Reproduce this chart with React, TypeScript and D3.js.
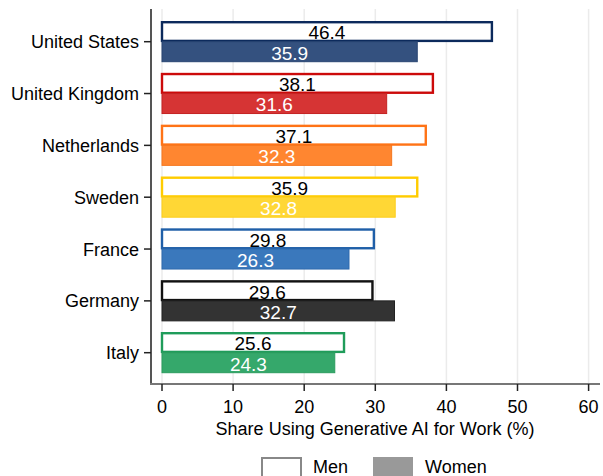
import React from "react";
import * as d3 from "d3";

const countries = ["United States", "United Kingdom", "Netherlands", "Sweden", "France", "Germany", "Italy"];
const menValues = [46.4, 38.1, 37.1, 35.9, 29.8, 29.6, 25.6];
const womenValues = [35.9, 31.6, 32.3, 32.8, 26.3, 32.7, 24.3];
const menStroke = ["#0c2a5c", "#cc0a0a", "#ff7316", "#ffcc00", "#1f5fa8", "#111111", "#1f9c5a"];
const womenFill = ["#34517f", "#d63434", "#ff8630", "#ffd735", "#3a78bc", "#333333", "#35a86b"];
const womenStroke = ["#294572", "#c42222", "#f5761e", "#fccd1c", "#2e6aae", "#222222", "#2b9c5e"];
const xTicks = [0, 10, 20, 30, 40, 50, 60];
const xTitle = "Share Using Generative AI for Work (%)";
const legendLabels = ["Men", "Women"];

const FONT = "'Liberation Sans', Arial, Helvetica, sans-serif";

export default function App() {
  const W = 603, H = 476;
  const x = d3.scaleLinear().domain([0, 60]).range([162, 588.6]);
  const y = d3.scalePoint<string>().domain(countries).range([41.7, 352.7]);
  const plotTop = 9, plotBottom = 384, axisX = 151;
  const barH = 19.5;

  return (
    <svg width={W} height={H} style={{ position: "absolute", left: 0, top: 0, background: "#fff" }} fontFamily={FONT}>
      <rect x={0} y={0} width={W} height={H} fill="#fff" />
      {xTicks.map((t) => (
        <line key={"g" + t} x1={x(t)} x2={x(t)} y1={plotTop} y2={plotBottom} stroke="#ebebeb" strokeWidth={1.5} />
      ))}
      {countries.map((c, i) => {
        const cy = y(c)!;
        const m = menValues[i];
        const w = womenValues[i];
        return (
          <g key={c}>
            <rect x={x(0)} y={cy - barH} width={x(m) - x(0)} height={barH - 0.8} fill="#fff" stroke={menStroke[i]} strokeWidth={2.4} />
            <rect x={x(0)} y={cy} width={x(w) - x(0)} height={barH + 0.5} fill={womenFill[i]} stroke={womenStroke[i]} strokeWidth={1} />
            <text x={(x(0) + x(m)) / 2} y={cy - 2.3} textAnchor="middle" fontSize={19} fill="#000">
              {m.toFixed(1)}
            </text>
            <text x={(x(0) + x(w)) / 2} y={cy + 17.8} textAnchor="middle" fontSize={19} fill="#fff">
              {w.toFixed(1)}
            </text>
          </g>
        );
      })}
      <line x1={axisX} x2={axisX} y1={plotTop} y2={plotBottom + 1} stroke="#555" strokeWidth={2} />
      {countries.map((c) => (
        <g key={"yt" + c}>
          <line x1={axisX - 7} x2={axisX} y1={y(c)!} y2={y(c)!} stroke="#222" strokeWidth={1.5} />
          <text x={139} y={y(c)! + 6.6} textAnchor="end" fontSize={18} fill="#000">
            {c}
          </text>
        </g>
      ))}
      <line x1={axisX - 1} x2={600} y1={plotBottom} y2={plotBottom} stroke="#777" strokeWidth={2} />
      {xTicks.map((t) => (
        <g key={"xt" + t}>
          <line x1={x(t)} x2={x(t)} y1={plotBottom} y2={plotBottom + 7} stroke="#222" strokeWidth={1.5} />
          <text x={x(t)} y={413} textAnchor="middle" fontSize={18} fill="#000">
            {t}
          </text>
        </g>
      ))}
      <text x={375} y={435} textAnchor="middle" fontSize={18} fill="#000">
        {xTitle}
      </text>
      <rect x={262} y={458} width={39} height={22} fill="#fff" stroke="#888" strokeWidth={2} />
      <text x={313} y={473} fontSize={18} fill="#000">{legendLabels[0]}</text>
      <rect x={373} y={457} width={40} height={23} fill="#999" />
      <text x={425} y={473} fontSize={18} fill="#000">{legendLabels[1]}</text>
    </svg>
  );
}
